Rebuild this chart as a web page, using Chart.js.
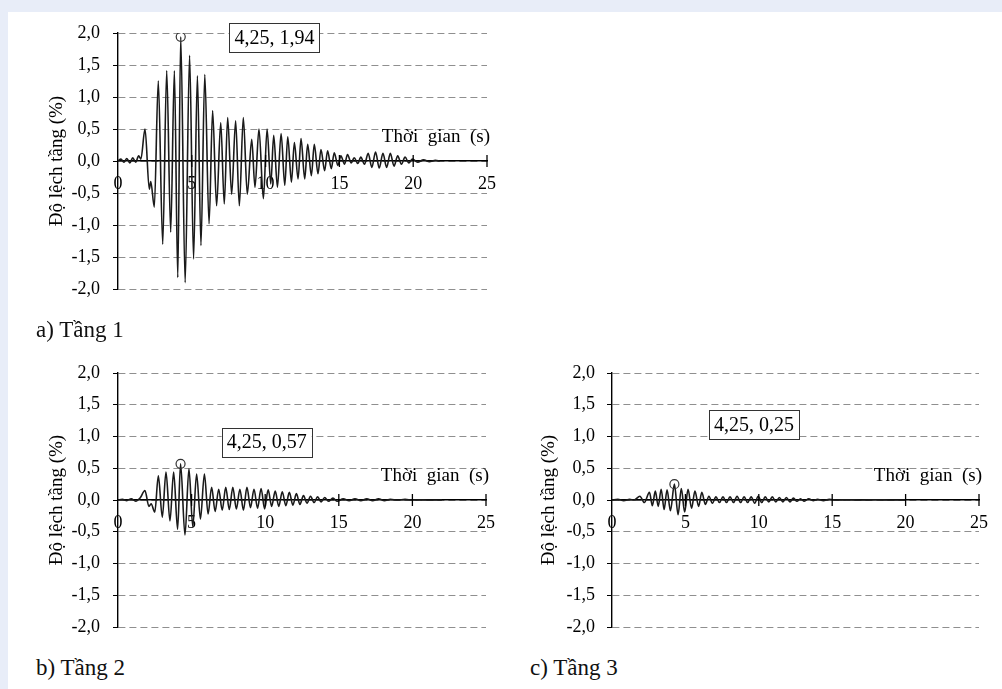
<!DOCTYPE html>
<html><head><meta charset="utf-8">
<script src="https://cdn.jsdelivr.net/npm/chart.js@4.4.1/dist/chart.umd.min.js"></script>
<style>
html,body{margin:0;padding:0;background:#e8edf8;width:1002px;height:689px;overflow:hidden;font-family:'Liberation Serif',serif;}
#panel{position:absolute;left:8px;top:12px;width:994px;height:677px;background:#fff;}
.cv{position:absolute;width:500px;height:300px;}
.cap{position:absolute;font-size:23px;line-height:23px;color:#111;white-space:nowrap;}
</style></head><body>
<div id="panel"></div>
<div class="cv" style="left:0;top:0"><canvas id="ca" width="500" height="300"></canvas></div>
<div class="cv" style="left:0;top:340px"><canvas id="cb" width="500" height="300"></canvas></div>
<div class="cv" style="left:500px;top:340px"><canvas id="cc" width="500" height="300"></canvas></div>
<div class="cap" id="capA" style="left:36px;top:318px"></div>
<div class="cap" id="capB" style="left:36px;top:656px"></div>
<div class="cap" id="capC" style="left:530px;top:656px"></div>
<script>
// ---- data ----
const captions = ['a) Tầng 1', 'b) Tầng 2', 'c) Tầng 3'];
const yTitle = 'Độ lệch tầng (%)';
const xTitle = 'Thời  gian  (s)';
const xMin = 0, xMax = 25, xStep = 5;
const yMin = -2, yMax = 2, yStep = 0.5;

const aTime = [0,0.2,0.4,0.6,0.8,1.0,1.2,1.4,1.55,1.83,2.12,2.22,2.46,2.73,3.03,3.3,3.57,3.82,4.05,4.25,4.55,4.85,5.12,5.38,5.62,5.88,6.17,6.41,6.68,6.96,7.2,7.43,7.7,7.97,8.22,8.49,8.76,9.06,9.28,9.55,9.85,10.1,10.35,10.55,10.8,11.05,11.3,11.5,11.75,11.95,12.2,12.4,12.65,12.85,13.1,13.3,13.55,13.75,14.0,14.2,14.45,14.65,14.9,15.1,15.35,15.55,15.8,16.0,16.25,16.45,16.7,16.95,17.2,17.45,17.7,17.95,18.2,18.45,18.7,18.95,19.2,19.45,19.7,19.95,20.3,20.7,21.1,21.5,21.8];
const aDrift = [0,0.03,-0.02,0.04,-0.03,0.05,-0.02,0.08,0.03,0.5,-0.44,-0.32,-0.72,1.25,-1.3,1.41,-1.11,1.41,-1.82,1.94,-1.9,1.65,-1.53,1.33,-1.32,1.35,-0.98,0.79,-0.7,0.6,-0.67,0.68,-0.52,0.63,-0.7,0.68,-0.52,0.34,-0.41,0.5,-0.59,0.5,-0.36,0.4,-0.41,0.43,-0.38,0.38,-0.33,0.29,-0.28,0.35,-0.28,0.26,-0.23,0.26,-0.2,0.18,-0.15,0.16,-0.12,0.13,-0.07,0.08,-0.05,0.1,-0.03,0.05,-0.04,0.06,-0.05,0.12,-0.1,0.14,-0.11,0.12,-0.1,0.12,-0.08,0.08,-0.05,0.06,-0.03,0.03,-0.02,0.02,-0.01,0.01,0];

const bTime = [0,0.3,0.6,0.9,1.2,1.5,1.83,2.1,2.25,2.5,2.74,3.01,3.26,3.53,3.78,4.05,4.25,4.55,4.82,5.08,5.34,5.6,5.87,6.12,6.36,6.6,6.84,7.08,7.32,7.56,7.8,8.04,8.28,8.52,8.76,9.0,9.24,9.48,9.72,9.96,10.2,10.44,10.68,10.92,11.16,11.4,11.64,11.88,12.12,12.36,12.6,12.84,13.08,13.32,13.56,13.8,14.04,14.3,14.6,14.9,15.3,15.7,16.1,16.5,16.9,17.3,17.7,18.1,18.5,19.0,19.5,20.0,20.5,21.0,21.5,22.0];
const bDrift = [0,0.01,-0.01,0.02,-0.02,0.03,0.15,-0.1,-0.06,-0.19,0.38,-0.27,0.44,-0.33,0.44,-0.46,0.57,-0.55,0.49,-0.42,0.41,-0.3,0.41,-0.22,0.2,-0.18,0.17,-0.16,0.2,-0.15,0.2,-0.14,0.17,-0.16,0.2,-0.12,0.17,-0.13,0.18,-0.14,0.16,-0.1,0.14,-0.1,0.13,-0.09,0.12,-0.08,0.1,-0.07,0.07,-0.05,0.06,-0.04,0.05,-0.03,0.04,-0.02,0.03,-0.02,0.02,-0.01,0.02,-0.01,0.02,-0.01,0.02,-0.01,0.01,0,0.01,0,0.005,0,0,0];

const cTime = [0,0.4,0.8,1.2,1.5,1.9,2.2,2.55,2.75,2.95,3.15,3.35,3.55,3.75,3.98,4.25,4.5,4.72,4.95,5.18,5.42,5.65,5.9,6.12,6.36,6.6,6.84,7.08,7.32,7.56,7.8,8.04,8.28,8.52,8.76,9.0,9.24,9.48,9.72,9.96,10.2,10.44,10.68,10.92,11.16,11.4,11.64,11.88,12.12,12.36,12.6,12.84,13.1,13.4,13.7,14.0,14.4,14.8,15.3,16.0,17.0,18.0,19.0,20.0];
const cDrift = [0,0.01,-0.01,0.01,0,0.06,-0.04,0.12,-0.09,0.14,-0.1,0.17,-0.15,0.16,-0.17,0.25,-0.23,0.18,-0.19,0.17,-0.13,0.14,-0.1,0.12,-0.07,0.06,-0.05,0.05,-0.04,0.05,-0.04,0.05,-0.04,0.06,-0.04,0.05,-0.04,0.05,-0.05,0.06,-0.04,0.05,-0.03,0.05,-0.03,0.04,-0.03,0.04,-0.03,0.03,-0.02,0.02,-0.02,0.02,-0.01,0.01,-0.01,0.01,0,0.005,0,0.005,0,0];

const peakTime = [4.25, 4.25, 4.25];
const peakDrift = [1.94, 0.57, 0.25];

// ---- rendering ----
const FONT = 'Liberation Serif';
const fmt1 = v => v.toFixed(1).replace('.', ',');
const fmt2 = v => v.toFixed(2).replace('.', ',');

const extras = {
  id: 'extras',
  afterDatasetsDraw(chart, args, o) {
    const {ctx} = chart;
    const xs = chart.scales.x, ys = chart.scales.y;
    const y0 = ys.getPixelForValue(0);
    ctx.save();
    ctx.strokeStyle = '#000'; ctx.lineWidth = 1.3; ctx.setLineDash([]);
    xs.ticks.forEach(t => {
      if (t.value === xMin) return;
      const px = xs.getPixelForValue(t.value);
      ctx.beginPath(); ctx.moveTo(px, y0 - 6); ctx.lineTo(px, y0 + 6); ctx.stroke();
    });
    ctx.fillStyle = '#000';
    ctx.font = '19px "' + FONT + '"';
    ctx.textAlign = 'right'; ctx.textBaseline = 'alphabetic';
    ctx.fillText(xTitle, xs.getPixelForValue(xMax) + 3, y0 - 19);
    const txt = fmt2(o.peak[0]) + ', ' + fmt2(o.peak[1]);
    ctx.font = '20px "' + FONT + '"';
    const w = ctx.measureText(txt).width + 10, h = 29;
    const cx = xs.getPixelForValue(o.box[0]), cy = ys.getPixelForValue(o.box[1]);
    ctx.fillStyle = '#fff';
    ctx.fillRect(cx - w / 2, cy - h / 2, w, h);
    ctx.strokeStyle = '#333'; ctx.lineWidth = 1;
    ctx.strokeRect(Math.round(cx - w / 2) + 0.5, Math.round(cy - h / 2) + 0.5, Math.round(w), h);
    ctx.fillStyle = '#000';
    ctx.textAlign = 'center'; ctx.textBaseline = 'middle';
    ctx.fillText(txt, cx, cy + 1);
    ctx.restore();
  }
};

function makeChart(id, times, drift, idx, opt) {
  const series = times.map((t, i) => ({x: t, y: drift[i]}));
  const peak = [peakTime[idx], peakDrift[idx]];
  return new Chart(document.getElementById(id), {
    type: 'line',
    data: {
      datasets: [
        {data: series, borderColor: '#1a1a1a', borderWidth: 1.6, pointRadius: 0,
         cubicInterpolationMode: 'monotone', fill: false, order: 2},
        {data: [{x: peak[0], y: peak[1]}], showLine: false, pointRadius: 4.5,
         pointBackgroundColor: 'rgba(0,0,0,0)', pointBorderColor: '#333', pointBorderWidth: 1.2, order: 1}
      ]
    },
    options: {
      responsive: false, animation: false,
      layout: {padding: opt.pad},
      plugins: {legend: {display: false}, tooltip: {enabled: false},
                extras: {peak: peak, box: opt.box}},
      scales: {
        x: {
          type: 'linear', min: xMin, max: xMax, position: {y: 0},
          afterFit: s => { s.height = 0; s.paddingLeft = 0; s.paddingRight = 0; },
          ticks: {stepSize: xStep, color: '#000', font: {family: FONT, size: 18}, padding: 12,
                  maxRotation: 0, autoSkip: false, callback: v => String(v)},
          grid: {display: false, drawTicks: false},
          border: {display: true, color: '#000', width: 1.4}
        },
        y: {
          type: 'linear', min: yMin, max: yMax,
          afterFit: s => { s.width = opt.yWidth; s.paddingTop = 0; s.paddingBottom = 0; },
          ticks: {stepSize: yStep, color: '#000', font: {family: FONT, size: 18}, padding: opt.tickPad,
                  callback: v => fmt1(v)},
          grid: {color: '#8f8f8f', lineWidth: 1, tickLength: 5, tickColor: '#000', tickBorderDash: [], tickWidth: 1},
          border: {display: true, color: '#000', width: 1.4, dash: [7, 4]},
          title: {display: true, text: yTitle, color: '#000', font: {family: FONT, size: 19},
                  padding: {top: opt.titlePad, bottom: 0}}
        }
      }
    },
    plugins: [extras]
  });
}

makeChart('ca', aTime, aDrift, 0, {pad: {top: 33, bottom: 11, left: 0, right: 13}, yWidth: 118, tickPad: 13, titlePad: 45.5, box: [10.6, 1.93]});
makeChart('cb', bTime, bDrift, 1, {pad: {top: 33, bottom: 13, left: 0, right: 14}, yWidth: 118, tickPad: 13, titlePad: 45.5, box: [10.1, 0.91]});
makeChart('cc', cTime, cDrift, 2, {pad: {top: 33, bottom: 13, left: 0, right: 21}, yWidth: 112, tickPad: 12, titlePad: 37.5, box: [9.67, 1.19]});

document.getElementById('capA').textContent = captions[0];
document.getElementById('capB').textContent = captions[1];
document.getElementById('capC').textContent = captions[2];
</script>
</body></html>
